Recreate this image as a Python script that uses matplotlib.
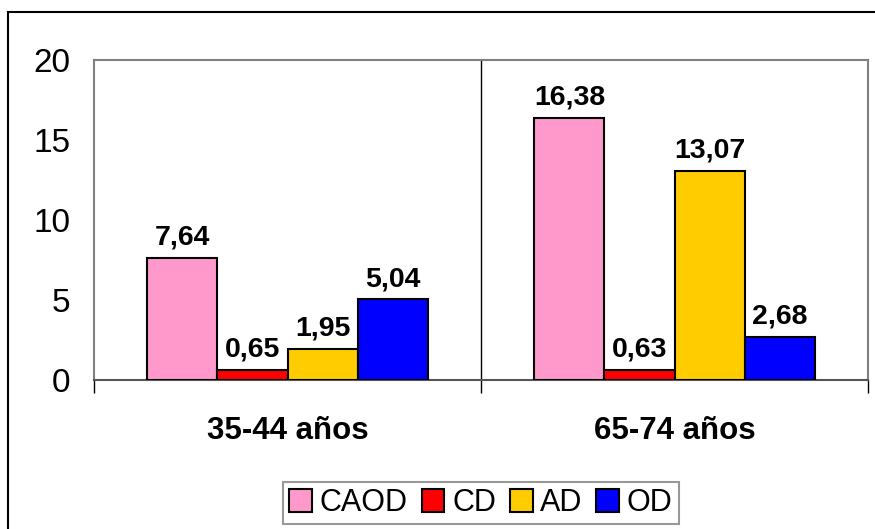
import numpy as np
import matplotlib.pyplot as plt
from matplotlib.patches import Rectangle

plt.rcParams['font.family'] = ['Liberation Sans', 'DejaVu Sans']

groups = ["35-44 años", "65-74 años"]
series = ["CAOD", "CD", "AD", "OD"]
values = {
    "CAOD": [7.64, 16.38],
    "CD": [0.65, 0.63],
    "AD": [1.95, 13.07],
    "OD": [5.04, 2.68],
}
colors = ["#FF99CC", "#FF0000", "#FFCC00", "#0000FF"]
yticks = [0, 5, 10, 15, 20]

W, H = 875, 529
fig = plt.figure(figsize=(W / 100, H / 100), dpi=100)
ax = fig.add_axes([94 / W, 1 - 380 / H, (868 - 94) / W, (380 - 60) / H])

# outer chart border (left and top visible, rest off-canvas)
fig.patches.append(Rectangle((8 / W, -0.1), 1.2, 1 - 12 / H + 0.1,
                             transform=fig.transFigure, fill=False,
                             edgecolor="black", linewidth=1.5))

x = np.arange(len(groups))
width = 0.181
for i, (name, col) in enumerate(zip(series, colors)):
    pos = x + (i - 1.5) * width
    bars = ax.bar(pos, values[name], width, color=col, edgecolor="black",
                  linewidth=1.5, label=name, zorder=3)
    for b, v in zip(bars, values[name]):
        ax.text(b.get_x() + b.get_width() / 2, v + 0.45,
                f"{v:.2f}".replace(".", ","), ha="center", va="bottom",
                fontsize=20.5, fontweight="bold", zorder=4)

ax.set_xlim(-0.5, 1.5)
ax.set_ylim(0, 20)
ax.set_yticks(yticks)
ax.tick_params(axis="y", length=0, labelsize=24, pad=17)
ax.set_xticks(x)
ax.set_xticklabels(groups, fontsize=22.5, fontweight="bold")
ax.tick_params(axis="x", length=0, pad=26)
ax.set_xticks([-0.5, 0.5, 1.5], minor=True)
ax.tick_params(axis="x", which="minor", length=9, width=1, color="black")
ax.axvline(0.5, color="black", linewidth=1, zorder=1)

for side in ["left", "top", "right"]:
    ax.spines[side].set_color("#808080")
    ax.spines[side].set_linewidth(1.5)
ax.spines["bottom"].set_color("#555555")
ax.spines["bottom"].set_linewidth(1.5)

leg = ax.legend(loc="center", bbox_to_anchor=(481 / W, 1 - 503 / H),
                bbox_transform=fig.transFigure, ncol=4, fontsize=22,
                frameon=True, fancybox=False, handlelength=0.75,
                handleheight=0.75, handletextpad=0.25, columnspacing=0.45,
                borderpad=0.2, borderaxespad=0)
leg.get_frame().set_edgecolor("#808080")
leg.get_frame().set_linewidth(1.5)

fig.savefig("out.png", dpi=100)
